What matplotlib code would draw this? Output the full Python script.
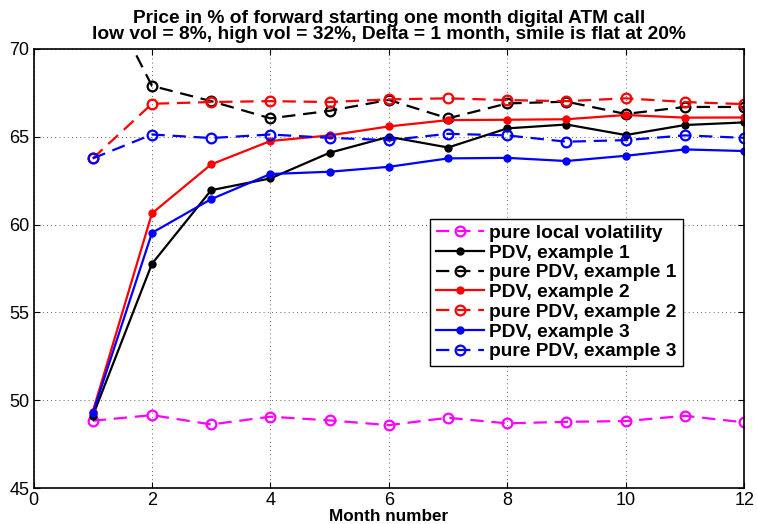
import matplotlib
matplotlib.use("Agg")
import matplotlib.pyplot as plt

plt.rcParams['font.family'] = ['Liberation Sans', 'DejaVu Sans']

months = [1, 2, 3, 4, 5, 6, 7, 8, 9, 10, 11, 12]
pure_local_vol = [48.83, 49.15, 48.62, 49.06, 48.85, 48.58, 49.0, 48.68, 48.77, 48.81, 49.11, 48.74]
pdv_ex1 = [49.1, 57.77, 61.96, 62.63, 64.09, 65.0, 64.39, 65.48, 65.7, 65.1, 65.67, 65.82]
pure_pdv_ex1 = [74.5, 67.9, 67.03, 66.05, 66.48, 67.1, 66.05, 66.9, 67.0, 66.3, 66.7, 66.7]
pdv_ex2 = [49.35, 60.64, 63.43, 64.76, 65.08, 65.59, 65.95, 65.97, 66.0, 66.24, 66.09, 66.1]
pure_pdv_ex2 = [63.77, 66.88, 66.98, 67.03, 66.98, 67.13, 67.19, 67.09, 67.03, 67.19, 66.98, 66.86]
pdv_ex3 = [49.25, 59.53, 61.45, 62.88, 63.01, 63.29, 63.77, 63.8, 63.62, 63.92, 64.28, 64.19]
pure_pdv_ex3 = [63.77, 65.13, 64.93, 65.13, 64.94, 64.81, 65.17, 65.08, 64.72, 64.81, 65.08, 64.94]

labels = ['pure local volatility', 'PDV, example 1', 'pure PDV, example 1',
          'PDV, example 2', 'pure PDV, example 2', 'PDV, example 3', 'pure PDV, example 3']
xticks = [0, 2, 4, 6, 8, 10, 12]
yticks = [45, 50, 55, 60, 65, 70]

fig = plt.figure(figsize=(7.57, 5.24), dpi=100)
ax = fig.add_axes([0.0443, 0.0687, 0.9387, 0.8378])

lw = 1.6
dash = (0, (6, 3.5))

def solid(y, c, lab):
    ax.plot(months, y, color=c, lw=lw, linestyle='-', marker='o', markersize=5,
            markerfacecolor=c, markeredgecolor=c, label=lab, clip_on=True)

def dashed(y, c, lab):
    ax.plot(months, y, color=c, lw=lw, linestyle=dash, marker='o', markersize=7,
            markerfacecolor='none', markeredgecolor=c, markeredgewidth=1.6, label=lab, clip_on=True)

dashed(pure_local_vol, '#ff00ff', labels[0])
solid(pdv_ex1, 'black', labels[1])
dashed(pure_pdv_ex1, 'black', labels[2])
solid(pdv_ex2, '#ff0000', labels[3])
dashed(pure_pdv_ex2, '#ff0000', labels[4])
solid(pdv_ex3, '#0000ff', labels[5])
dashed(pure_pdv_ex3, '#0000ff', labels[6])

ax.set_xlim(0, 12)
ax.set_ylim(45, 70)
ax.set_xticks(xticks)
ax.set_yticks(yticks)
ax.tick_params(direction='in', top=True, right=True, labelsize=13, length=4, width=0.8, pad=3)
ax.grid(True, linestyle=(0, (1, 4)), color='black', linewidth=0.6, alpha=0.8)
for s in ax.spines.values():
    s.set_linewidth(1.2)

ax.set_xlabel('Month number', fontsize=12.3, fontweight='bold', labelpad=0)
ax.set_title('Price in % of forward starting one month digital ATM call\n'
             'low vol = 8%, high vol = 32%, Delta = 1 month, smile is flat at 20%',
             fontsize=13.8, fontweight='bold', pad=7, linespacing=0.92)

leg = ax.legend(loc='upper left', bbox_to_anchor=(0.558, 0.613), prop={'weight': 'bold', 'size': 13.8},
                frameon=True, fancybox=False, edgecolor='black', framealpha=1,
                handlelength=2.5, handletextpad=0.3, borderpad=0.3, labelspacing=0.12,
                borderaxespad=0)
leg.get_frame().set_linewidth(1.0)

fig.savefig('out.png', dpi=100)
